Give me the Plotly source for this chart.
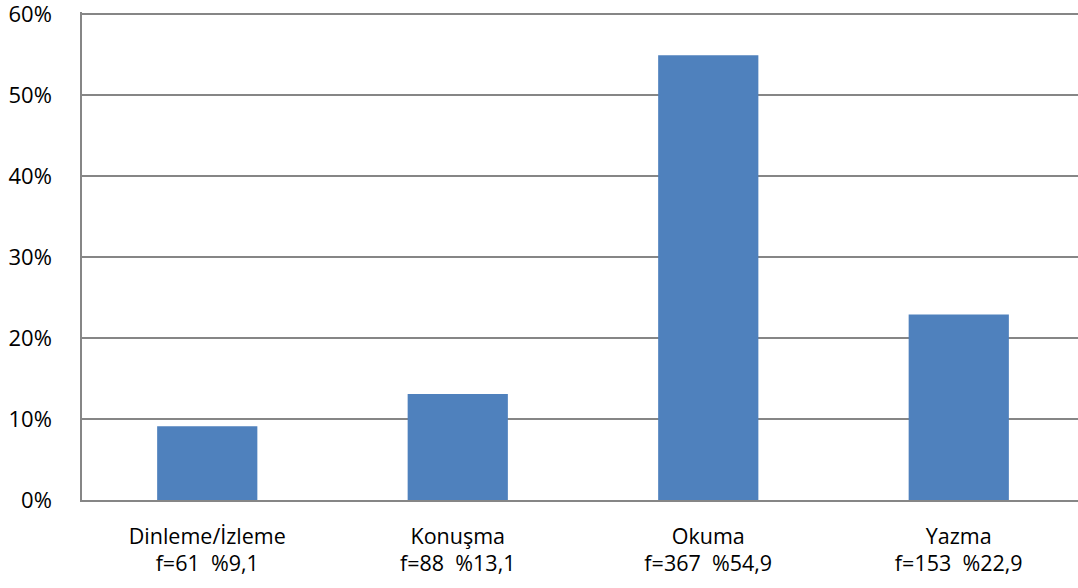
import plotly.graph_objects as go

categories = ["Dinleme/İzleme", "Konuşma", "Okuma", "Yazma"]
freq = [61, 88, 367, 153]
percent = [9.1, 13.1, 54.9, 22.9]
pct_labels = ["9,1", "13,1", "54,9", "22,9"]
y_ticks = [0, 10, 20, 30, 40, 50, 60]
y_ticklabels = [f"{v}%" for v in y_ticks]

LABEL_PX = 21.5
x_labels = [
    f'<span style="font-size:{LABEL_PX}px">{c}</span><br>'
    f'<span style="font-size:{LABEL_PX}px">f={f}\u00a0 %{p}</span>'
    for c, f, p in zip(categories, freq, pct_labels)
]

fig = go.Figure()
fig.add_trace(go.Bar(
    x=list(range(len(categories))),
    y=percent,
    marker=dict(color="#4F81BD", line=dict(width=0)),
    width=0.4,
    hoverinfo="skip",
))

font_family = "'Open Sans', sans-serif"

fig.update_layout(
    width=1078, height=588,
    margin=dict(l=82, r=0, t=12, b=88, autoexpand=False),
    paper_bgcolor="white", plot_bgcolor="white",
    showlegend=False,
    font=dict(family=font_family, size=21, color="#000000"),
    xaxis=dict(
        tickmode="array",
        tickvals=list(range(len(categories))),
        ticktext=x_labels,
        range=[-0.5, 3.476],
        showgrid=False,
        showline=True, linecolor="#868686", linewidth=1.5,
        ticks="", zeroline=False,
        ticklabelstandoff=17,
        tickfont=dict(size=21),
        automargin=False,
        fixedrange=True,
    ),
    yaxis=dict(
        tickmode="array",
        tickvals=y_ticks,
        ticktext=y_ticklabels,
        range=[0, 60.25],
        showgrid=True, gridcolor="#868686", gridwidth=1.5,
        showline=True, linecolor="#868686", linewidth=1.5,
        ticks="", zeroline=False,
        ticklabelstandoff=24,
        ticklabeloverflow="allow",
        tickfont=dict(size=22),
        automargin=False,
        fixedrange=True,
    ),
)

fig.write_html(
    "out.html",
    config={"displayModeBar": False},
    post_script="document.body.style.margin='0px';",
)
